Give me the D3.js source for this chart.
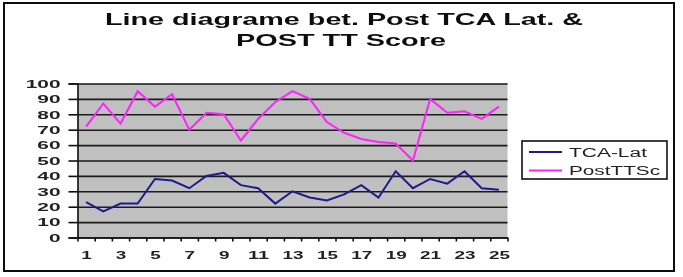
<!DOCTYPE html>
<html>
<head>
<meta charset="utf-8">
<script src="https://cdn.jsdelivr.net/npm/d3@7"></script>
<style>
  body { margin: 0; background: #fff; }
  svg { display: block; font-family: "Liberation Sans", Arial, sans-serif; }
</style>
</head>
<body>
<svg width="683" height="277"></svg>
<script>
// chart values
const categories = d3.range(1, 26);
const tcaLat = [23, 17, 22, 22, 38, 37, 32, 40, 42, 34, 32, 22, 30, 26, 24, 28, 34, 26, 43, 32, 38, 35, 43, 32, 31];
const postTTSc = [72, 87, 74, 95, 85, 93, 70, 81, 80, 63, 77, 88, 95, 90, 75, 68, 64, 62, 61, 50, 90, 81, 82, 77, 85];
const yTicks = d3.range(0, 101, 10);
const xLabels = categories.filter(d => d % 2 === 1);

const series = [
  { name: 'TCA-Lat', values: tcaLat, color: '#1c1c8c' },
  { name: 'PostTTSc', values: postTTSc, color: '#ff22ff' }
];

const svg = d3.select('svg');

// soften everything a bit, the source is a blurry scan
const defs = svg.append('defs');
defs.append('filter').attr('id', 'soft')
  .append('feGaussianBlur').attr('stdDeviation', 0.45);

const root = svg.append('g').attr('filter', 'url(#soft)');

// outer frame
root.append('rect')
  .attr('x', 4).attr('y', 3).attr('width', 670).attr('height', 268)
  .attr('fill', '#fff').attr('stroke', '#111').attr('stroke-width', 2);

// title
const title = root.append('g').attr('font-weight', 'bold').attr('font-size', 16.5).attr('text-anchor', 'middle').attr('fill', '#111');
title.append('text').attr('x', 344).attr('y', 25)
  .attr('textLength', 478).attr('lengthAdjust', 'spacingAndGlyphs')
  .text('Line diagrame bet. Post TCA Lat. &');
title.append('text').attr('x', 341).attr('y', 46)
  .attr('textLength', 210).attr('lengthAdjust', 'spacingAndGlyphs')
  .text('POST TT Score');

const x0 = 77.5, x1 = 507.5, yTop = 83.5, yBot = 237.5;

const x = d3.scaleLinear().domain([0.5, 25.5]).range([x0, x1]);
const y = d3.scaleLinear().domain([0, 100]).range([yBot, yTop]);

// plot background
root.append('rect')
  .attr('x', x0).attr('y', yTop).attr('width', x1 - x0).attr('height', yBot - yTop)
  .attr('fill', '#c0c0c0');

// gridlines
const grid = root.append('g').attr('transform', `translate(${x0},0)`)
  .call(d3.axisLeft(y).tickValues(yTicks).tickSize(-(x1 - x0)).tickFormat(''));
grid.select('.domain').remove();
grid.selectAll('line').attr('stroke', '#1a1a1a').attr('stroke-width', 1.6);

// y axis
const yAxis = root.append('g').attr('transform', `translate(${x0},0)`)
  .call(d3.axisLeft(y).tickValues(yTicks).tickSize(9).tickPadding(8));
yAxis.select('.domain').attr('stroke', '#111').attr('stroke-width', 1.6);
yAxis.selectAll('line').attr('stroke', '#111').attr('stroke-width', 1.6);
yAxis.selectAll('text')
  .attr('font-size', 10.5).attr('font-weight', 'bold').attr('fill', '#222')
  .attr('font-family', '"Liberation Sans", Arial, sans-serif')
  .attr('dy', '0.36em')
  .attr('textLength', d => String(d).length * 11.6)
  .attr('lengthAdjust', 'spacingAndGlyphs');

// x axis: tick marks at category boundaries
const xTickAxis = root.append('g').attr('transform', `translate(0,${yBot})`)
  .call(d3.axisBottom(x).tickValues(d3.range(0.5, 26, 1)).tickSize(4).tickSizeOuter(0).tickFormat(''));
xTickAxis.select('.domain').attr('stroke', '#111').attr('stroke-width', 1.6);
xTickAxis.selectAll('line').attr('stroke', '#111').attr('stroke-width', 1.6);

// x labels on odd categories
const xLabelAxis = root.append('g').attr('transform', `translate(0,${yBot})`)
  .call(d3.axisBottom(x).tickValues(xLabels).tickSize(0).tickPadding(14));
xLabelAxis.select('.domain').remove();
xLabelAxis.selectAll('text')
  .attr('font-size', 10.5).attr('font-weight', 'bold').attr('fill', '#222')
  .attr('font-family', '"Liberation Sans", Arial, sans-serif')
  .attr('textLength', d => String(d).length * 10.5)
  .attr('lengthAdjust', 'spacingAndGlyphs');

// lines
const line = d3.line().x((d, i) => x(categories[i])).y(d => y(d));
root.selectAll('.series')
  .data(series)
  .enter()
  .append('path')
  .attr('class', 'series')
  .attr('d', d => line(d.values))
  .attr('fill', 'none')
  .attr('stroke', d => d.color)
  .attr('stroke-width', 2)
  .attr('stroke-linejoin', 'miter');

// legend
const legend = root.append('g');
legend.append('rect')
  .attr('x', 522).attr('y', 141).attr('width', 145).attr('height', 38)
  .attr('fill', '#fff').attr('stroke', '#111').attr('stroke-width', 1.6);
const item = legend.selectAll('.item')
  .data(series)
  .enter()
  .append('g')
  .attr('class', 'item')
  .attr('transform', (d, i) => `translate(0,${152 + i * 18.5})`);
item.append('line')
  .attr('x1', 529).attr('x2', 562)
  .attr('stroke', d => d.color).attr('stroke-width', 2);
item.append('text')
  .attr('x', 569).attr('dy', '0.36em')
  .attr('font-size', 12.5).attr('fill', '#222')
  .attr('textLength', d => d.name === 'TCA-Lat' ? 78 : 91)
  .attr('lengthAdjust', 'spacingAndGlyphs')
  .text(d => d.name);
</script>
</body>
</html>
